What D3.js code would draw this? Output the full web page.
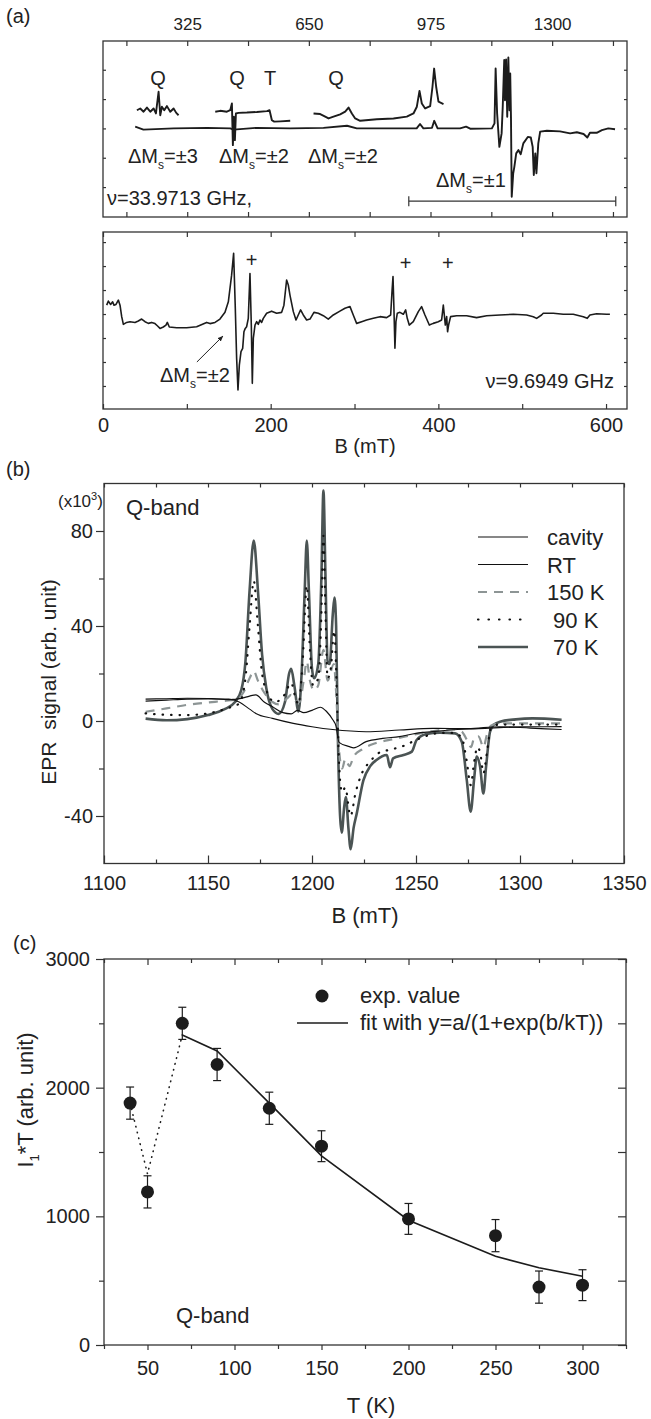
<!DOCTYPE html>
<html>
<head>
<meta charset="utf-8">
<script src="https://cdn.jsdelivr.net/npm/d3@7"></script>
<style>
  body { margin: 0; background: #fff; }
  svg { font-family: "Liberation Sans", Arial, sans-serif; }
</style>
</head>
<body>
<div id="chart-area"></div>
<script>
// ---------- panel (a), top: Q-band spectrum (field in mT, signal arb.) ----------
const qTicks = [162.5, 325, 487.5, 650, 812.5, 975, 1137.5, 1300, 1462.5];
const qLabels = [325, 650, 975, 1300];
const qBase = [[186,0.06],[208,-0.04],[289,0],[378,0.02],[440,0],[449,-0.04],[511,0.02],[600,0],[689,0.02],[752,0.09],[778,0],[876,0],[938,0],[947,0.15],[956,0],[979,0.02],[985,0.26],[994,0],[1054,0],[1070,0.06],[1081,-0.01],[1139,0],[1146,0.17],[1149,2.04],[1153,0.51],[1159,-0.63],[1165,-0.17],[1168,0.74],[1172,2.33],[1174,0.96],[1177,2.35],[1180,0.40],[1183,2.42],[1186,0.62],[1188,1.87],[1190,0.40],[1192,-2.33],[1196,-1.53],[1199,-1.31],[1204,-0.85],[1210,-0.74],[1216,-0.88],[1223,-0.51],[1235,-0.29],[1243,-0.31],[1248,-0.63],[1251,-1.59],[1255,-0.85],[1258,-1.53],[1263,-0.51],[1268,-0.11],[1286,-0.08],[1321,-0.10],[1348,-0.17],[1366,-0.13],[1384,-0.19],[1394,-0.31],[1401,-0.15],[1419,-0.15],[1433,-0.06],[1450,0],[1468,-0.03]];
const qSeg1 = [[190.6,0.62],[199.5,0.68],[208.4,0.57],[217.4,0.71],[226.3,0.57],[235.2,0.68],[241.4,0.51],[248.5,1.25],[253,0.45],[257.4,0.74],[263.6,0.62],[270.8,0.76],[279.7,0.57],[288.6,0.68],[295.7,0.53],[301.9,0.45]];
const qSeg2 = [[399.9,0.57],[413.2,0.60],[431,0.57],[439.9,0.62],[444.4,0.85],[447,-0.57],[449.7,0.40],[452.4,-0.40],[455.1,0.51],[462.2,0.53],[484.4,0.54],[511.2,0.56],[537.9,0.59],[545,0.62],[551.2,0.28],[557.5,0.23],[573.5,0.24],[600.2,0.26]];
const qSeg3 = [[662.5,0.51],[680.3,0.49],[693.7,0.40],[702.6,0.34],[715.9,0.40],[733.7,0.48],[747.1,0.57],[756,0.71],[764.9,0.51],[773.8,0.34],[787.1,0.26],[831.6,0.31],[876.1,0.34],[911.7,0.40],[929.5,0.51],[938.5,0.74],[945.6,1.28],[951.8,0.85],[960.7,0.68],[974.1,0.76],[980.3,1.42],[984.7,2.04],[990.1,1.42],[996.3,0.91],[1009.7,0.83]];

// ---------- panel (a), bottom: X-band spectrum ----------
const xTicks = [0, 100, 200, 300, 400, 500, 600];
const xLabels = [0, 200, 400, 600];
const xBand = [[4.4,0.37],[6.4,0.54],[9.1,0.40],[11.5,0.51],[13.1,0.37],[15.5,0.40],[18.3,0.58],[20.3,0.37],[22.3,-0.11],[24.3,-0.43],[28.2,-0.35],[32.2,-0.32],[38.2,-0.35],[42.1,-0.29],[46.1,-0.21],[50.1,-0.32],[54.1,-0.39],[58.0,-0.35],[62.0,-0.40],[64.8,-0.49],[68.0,-0.60],[71.9,-0.54],[75.1,-0.46],[76.7,-0.35],[79.1,-0.54],[87.9,-0.57],[99.8,-0.57],[111.7,-0.53],[123.6,-0.35],[127.6,-0.40],[133.6,-0.35],[139.5,-0.21],[145.5,0.07],[149.5,0.51],[153.4,1.62],[155.8,2.53],[157.8,0.24],[159.4,-1.85],[161.0,-3.17],[162.6,-2.13],[164.6,-1.57],[166.6,-1.43],[168.1,-0.74],[169.7,-0.60],[171.3,-0.53],[173.3,-0.18],[175.3,1.69],[176.9,-0.46],[178.1,-2.89],[179.3,-1.01],[181.3,-0.46],[183.3,-0.32],[185.2,-0.43],[187.2,-0.25],[189.2,-0.35],[191.2,-0.18],[195.2,0.03],[201.1,0.12],[207.1,0.03],[213.1,0.07],[215.8,0.37],[219.0,1.42],[221.0,1.21],[223.0,0.79],[227.0,0.10],[230.2,-0.25],[232.9,-0.04],[235.7,0.17],[238.9,-0.04],[242.9,-0.25],[246.9,-0.21],[251.6,0.07],[256.8,0.03],[262.8,-0.07],[268.7,-0.21],[274.7,-0.04],[282.6,0.12],[288.6,0.24],[294.6,0.31],[298.5,-0.04],[302.5,-0.39],[308.5,-0.32],[314.4,-0.25],[322.4,-0.18],[330.4,-0.11],[338.3,-0.15],[343.1,-0.04],[344.7,0.93],[345.9,1.56],[347.0,0.24],[348.2,-1.43],[349.4,-0.32],[351.0,0.03],[354.2,0.07],[358.2,-0.01],[361.0,0.17],[362.9,-0.18],[365.3,-0.46],[370.1,-0.32],[376.1,0.10],[380.0,0.31],[384.0,-0.04],[389.2,-0.46],[393.9,-0.39],[399.9,-0.32],[403.9,-0.25],[405.9,0.37],[407.1,-0.04],[408.3,-0.46],[409.9,-0.11],[411.0,-0.74],[412.2,-0.46],[414.6,-0.11],[421.8,-0.07],[433.7,-0.07],[445.6,-0.15],[457.6,-0.07],[473.5,-0.04],[489.4,-0.01],[505.3,-0.04],[513.2,-0.11],[517.2,-0.18],[523.1,-0.04],[525.1,0.03],[537.1,0.03],[549.0,-0.01],[560.9,-0.01],[572.8,-0.11],[577.6,-0.18],[580.8,-0.04],[588.7,0.01],[600.7,-0.01],[604.6,-0.01]];

// ---------- panel (b): Q-band spectra vs temperature (x10^3) ----------
const bTicksX = [1100, 1150, 1200, 1250, 1300, 1350];
const bMinorX = [1125, 1175, 1225, 1275, 1325];
const bTicksY = [-40, 0, 40, 80];
const bMinorY = [-20, 20, 60];
const cavity = [[1120,9.2],[1130,9.4],[1140,9.6],[1150,9.5],[1160,9.2],[1165,8],[1170,5],[1173,3.2],[1181,1.1],[1191,-1.0],[1200,-2.4],[1210,-3.6],[1226,-4.5],[1242,-3.8],[1258,-3.1],[1275,-3.2],[1290,-2.4],[1305,-3],[1320,-3.6]];
const rt = [[1120,8.4],[1130,8.8],[1140,9.2],[1150,9.3],[1160,9.0],[1166,9.5],[1170,10.5],[1173,11],[1177,8],[1181,6],[1186,3.5],[1190,3],[1193,4.5],[1196,3.5],[1200,4.5],[1204,5.8],[1207,4],[1210,0.5],[1211.5,-2],[1213,-9],[1218,-10.8],[1220,-11.3],[1226,-8.7],[1234,-7.3],[1242,-6.6],[1250,-5.2],[1258,-4.5],[1266,-3.8],[1280,-3.2],[1290,-2.8],[1300,-2.5],[1320,-2.4]];
const k150 = [[1120,3.9],[1130,5.3],[1140,6.8],[1150,7.8],[1158,8.5],[1164,9.2],[1167,12],[1170,18],[1172,21],[1174,17],[1177,12],[1181,8],[1184,7],[1188,9.5],[1190,11],[1192,8.5],[1194,8],[1196,17],[1197.5,25],[1199,17],[1201,13],[1203,15],[1205.5,30],[1207.5,17],[1210.5,24],[1211.6,12],[1212.3,0],[1213,-12],[1214.5,-20],[1216,-16],[1218,-19],[1220,-15],[1224,-12],[1230,-9.5],[1240,-7.5],[1250,-5.5],[1260,-4],[1268,-3.5],[1272,-4.5],[1274.5,-8],[1276.5,-11],[1278,-7],[1280,-6.5],[1282.5,-11],[1284,-6],[1286,-2],[1290,-1],[1300,-1],[1320,-1]];
const k90 = [[1120,3.2],[1130,2.6],[1140,2.5],[1150,3.2],[1159,5.3],[1165,7.4],[1168,18],[1170,40],[1172,59],[1174,40],[1176,20],[1179,11],[1182,8],[1186,10],[1189,15],[1190,16],[1192,10],[1193.5,7],[1195.5,25],[1197.5,57],[1199,30],[1200.5,15],[1203,18],[1204.5,45],[1205.5,78],[1206.5,45],[1207.5,18],[1209,22],[1210.7,38],[1211.6,22],[1212.3,0],[1213.5,-25],[1214.5,-30],[1216,-28],[1218.5,-40],[1221,-30],[1224,-22],[1228,-17],[1232,-13.5],[1238,-12],[1244,-10.5],[1250,-8],[1256,-6],[1262,-5],[1268,-5],[1272,-7],[1274.4,-17],[1276.3,-27],[1278,-17],[1279.5,-11],[1281,-14],[1282.4,-22],[1284,-14],[1286,-3],[1290,-1.5],[1300,-1.5],[1320,-1.5]];
const k70 = [[1120,1.0],[1130,0.3],[1140,0.8],[1150,2.5],[1158,5],[1163,8],[1166,13],[1168,25],[1170,55],[1172,76],[1174,55],[1176,28],[1178,14],[1181,5],[1184,3],[1187,8],[1189,20],[1190,22],[1191.5,15],[1193.5,4],[1195,20],[1196.5,55],[1197.5,76],[1198.5,55],[1200,22],[1201,18],[1203,24],[1204.5,60],[1205.5,97],[1206.5,60],[1207.5,25],[1208.5,24],[1210,45],[1210.8,52],[1211.6,40],[1212.3,0],[1213.5,-40],[1214.3,-47],[1215.5,-36],[1216.3,-32],[1217.5,-45],[1218.6,-54],[1220,-45],[1221.5,-39],[1224.7,-25],[1228,-19],[1231,-16.4],[1236,-14.3],[1237.5,-19.5],[1239,-15.7],[1244,-14.3],[1248,-12.9],[1250.3,-8],[1255,-5.5],[1261.5,-4.9],[1268.8,-5.2],[1272,-8.7],[1274.4,-24.8],[1276.3,-38.2],[1277.9,-24.8],[1279.2,-15],[1280.8,-19.2],[1282.4,-30.5],[1283.7,-19.2],[1285.6,-4.5],[1287.2,-1.7],[1290.4,-0.3],[1298,0.7],[1306,1.1],[1320,0.5]];
const bSeriesNames = ['cavity', 'RT', '150 K', ' 90 K', ' 70 K'];

// ---------- panel (c): I1*T vs T ----------
const cTicksX = [50, 100, 150, 200, 250, 300];
const cMinorX = [25, 75, 125, 175, 225, 275, 325];
const cTicksY = [0, 1000, 2000, 3000];
const cMinorY = [500, 1500, 2500];
const temps = [40, 50, 70, 90, 120, 150, 200, 250, 275, 300];
const i1t = [1880, 1190, 2500, 2180, 1840, 1545, 980, 850, 450, 465];
const i1tErr = [125, 125, 125, 125, 125, 120, 120, 125, 125, 120];
const fitT = [70, 90, 120, 150, 200, 250, 275, 300];
const fitY = [2410, 2285, 1880, 1470, 970, 690, 600, 535];
const guideT = [40, 50, 70];
const guideY = [1880, 1330, 2410];

const ink = '#1c1c1c';
const svg = d3.select('#chart-area')
    .append('svg')
        .attr('width', 651)
        .attr('height', 1419);

function frame(x0, y0, x1, y1) {
    svg.append('rect')
        .attr('x', x0).attr('y', y0)
        .attr('width', x1 - x0).attr('height', y1 - y0)
        .attr('fill', 'none')
        .attr('stroke', '#333')
        .attr('stroke-width', 1.3);
}

// one axis, domain line removed (the frame draws it)
function axis(gen, scale, values, size, pad, labels, tx, ty, fs) {
    const a = gen(scale)
        .tickValues(values)
        .tickSize(size)
        .tickPadding(pad)
        .tickFormat(d => (labels && labels.includes(d)) ? d : '');
    const g = svg.append('g')
        .attr('transform', `translate(${tx}, ${ty})`)
        .call(a);
    g.attr('font-family', '"Liberation Sans", Arial, sans-serif')
        .attr('font-size', fs || 20);
    g.select('.domain').remove();
    g.selectAll('line').attr('stroke', '#333').attr('stroke-width', 1.2);
    g.selectAll('text').attr('fill', '#222');
    return g;
}

function label(x, y, txt, fs, anchor) {
    return svg.append('text')
        .attr('x', x).attr('y', y)
        .attr('font-size', fs || 20)
        .attr('fill', '#222')
        .attr('text-anchor', anchor || 'start')
        .text(txt);
}

function deltaMs(x, y, val) {
    const t = svg.append('text')
        .attr('x', x).attr('y', y)
        .attr('font-size', 20)
        .attr('fill', '#222');
    t.append('tspan').text('\u0394M');
    t.append('tspan').attr('dy', 6).attr('font-size', 12).text('s');
    t.append('tspan').attr('dy', -6).text('=\u00b1' + val);
}

// ================= panel (a) top =================
const xQ = d3.scaleLinear().domain([100, 1500]).range([103, 627]);
const yQ = d3.scaleLinear().domain([-3.02, 2.98]).range([217, 41]);
frame(103, 41, 627, 217);
axis(d3.axisTop, xQ, qTicks, -5, 11, qLabels, 0, 41, 17);
axis(d3.axisBottom, xQ, qTicks, -5, 5, null, 0, 217);
axis(d3.axisLeft, yQ, [-2, -1, 0, 1, 2], -3, 3, null, 103, 0);
axis(d3.axisRight, yQ, [-2, -1, 0, 1, 2], -3, 3, null, 627, 0);

const lineQ = d3.line().x(d => xQ(d[0])).y(d => yQ(d[1]));
[qBase, qSeg1, qSeg2, qSeg3].forEach(s => {
    svg.append('path')
        .attr('d', lineQ(s))
        .attr('fill', 'none')
        .attr('stroke', ink)
        .attr('stroke-width', 1.9)
        .attr('stroke-linejoin', 'round');
});

label(158, 85, 'Q', 20, 'middle');
label(237, 85, 'Q', 20, 'middle');
label(270, 85, 'T', 20, 'middle');
label(336, 85, 'Q', 20, 'middle');
deltaMs(128, 163, '3');
deltaMs(219, 163, '2');
deltaMs(308, 163, '2');
deltaMs(436, 187, '1');
label(107, 205, '\u03bd=33.9713 GHz,', 20);

// ΔMs=±1 range bracket
const bracket = [xQ(917), xQ(1470)];
svg.append('line')
    .attr('x1', bracket[0]).attr('x2', bracket[1])
    .attr('y1', yQ(-2.48)).attr('y2', yQ(-2.48))
    .attr('stroke', '#333').attr('stroke-width', 1.2);
bracket.forEach(bx => {
    svg.append('line')
        .attr('x1', bx).attr('x2', bx)
        .attr('y1', yQ(-2.48) - 5).attr('y2', yQ(-2.48) + 5)
        .attr('stroke', '#333').attr('stroke-width', 1.2);
});

// ================= panel (a) bottom =================
const xX = d3.scaleLinear().domain([0, 625]).range([103, 627]);
const yX = d3.scaleLinear().domain([-3.96, 3.42]).range([409, 232]);
frame(103, 232, 627, 409);
axis(d3.axisBottom, xX, xTicks, -5, 9, xLabels, 0, 409);
axis(d3.axisTop, xX, xTicks, -5, 5, null, 0, 232);
axis(d3.axisLeft, yX, [-3, -2, -1, 0, 1, 2, 3], -3, 3, null, 103, 0);
axis(d3.axisRight, yX, [-3, -2, -1, 0, 1, 2, 3], -3, 3, null, 627, 0);

const lineX = d3.line().x(d => xX(d[0])).y(d => yX(d[1]));
svg.append('path')
    .attr('d', lineX(xBand))
    .attr('fill', 'none')
    .attr('stroke', ink)
    .attr('stroke-width', 1.6)
    .attr('stroke-linejoin', 'round');

label(xX(177.3), 267, '+', 20, 'middle');
label(xX(360.9), 270, '+', 20, 'middle');
label(xX(411.3), 270, '+', 20, 'middle');
deltaMs(160, 382, '2');
label(614, 388, '\u03bd=9.6949 GHz', 20, 'end');
label(365, 453, 'B (mT)', 20, 'middle');

svg.append('defs').append('marker')
    .attr('id', 'arrow')
    .attr('viewBox', '0 0 10 10')
    .attr('refX', 9).attr('refY', 5)
    .attr('markerWidth', 6).attr('markerHeight', 6)
    .attr('orient', 'auto')
    .append('path')
        .attr('d', 'M0,1 L10,5 L0,9 Z')
        .attr('fill', '#222');
svg.append('line')
    .attr('x1', xX(112)).attr('y1', yX(-2.0))
    .attr('x2', xX(143)).attr('y2', yX(-0.92))
    .attr('stroke', '#222').attr('stroke-width', 1)
    .attr('marker-end', 'url(#arrow)');

label(6, 23, '(a)', 20);

// ================= panel (b) =================
const xB = d3.scaleLinear().domain([1100, 1350]).range([104, 624]);
const yB = d3.scaleLinear().domain([-60, 100]).range([863.5, 483.5]);
frame(104, 483.5, 624, 863.5);
axis(d3.axisBottom, xB, bTicksX, -8, 12, bTicksX, 0, 863.5);
axis(d3.axisBottom, xB, bMinorX, -4, 5, null, 0, 863.5);
axis(d3.axisTop, xB, bTicksX.concat(bMinorX), -4, 5, null, 0, 483.5);
axis(d3.axisLeft, yB, bTicksY, 8, 3, bTicksY, 104, 0);
axis(d3.axisLeft, yB, bMinorY, 5, 3, null, 104, 0);

const lineB = d3.line().x(d => xB(d[0])).y(d => yB(d[1])).curve(d3.curveMonotoneX);
const bStyles = [
    { data: k70, stroke: '#4b5454', width: 2.6, dash: null },
    { data: k150, stroke: '#8d9595', width: 2.2, dash: '9,7' },
    { data: k90, stroke: '#111', width: 2.2, dash: '0.5,8' },
    { data: rt, stroke: '#111', width: 1.2, dash: null },
    { data: cavity, stroke: '#111', width: 1.1, dash: null }
];
bStyles.forEach(s => {
    svg.append('path')
        .attr('d', lineB(s.data))
        .attr('fill', 'none')
        .attr('stroke', s.stroke)
        .attr('stroke-width', s.width)
        .attr('stroke-dasharray', s.dash)
        .attr('stroke-linecap', s.dash === '0.5,8' ? 'round' : 'butt')
        .attr('stroke-linejoin', 'round');
});

// legend: same order as the reference (cavity, RT, 150 K, 90 K, 70 K)
const legendOrder = [4, 3, 1, 2, 0];
bSeriesNames.forEach((name, i) => {
    const s = bStyles[legendOrder[i]];
    const ly = 537 + i * 27.5;
    svg.append('line')
        .attr('x1', 478).attr('x2', 528)
        .attr('y1', ly).attr('y2', ly)
        .attr('stroke', s.stroke)
        .attr('stroke-width', s.width)
        .attr('stroke-dasharray', s.dash === '0.5,8' ? '0.5,10' : s.dash)
        .attr('stroke-linecap', s.dash === '0.5,8' ? 'round' : 'butt');
    label(547, ly + 8, name, 22).attr('xml:space', 'preserve');
});

const sci = svg.append('text').attr('x', 58).attr('y', 507).attr('font-size', 17).attr('fill', '#222');
sci.append('tspan').text('(x10');
sci.append('tspan').attr('dy', -7).attr('font-size', 11).text('3');
sci.append('tspan').attr('dy', 7).text(')');
label(126, 515, 'Q-band', 22);
label(365, 923, 'B (mT)', 22, 'middle');
svg.append('text')
    .attr('transform', 'translate(56, 682) rotate(-90)')
    .attr('text-anchor', 'middle')
    .attr('font-size', 21)
    .attr('fill', '#222')
    .text('EPR\u00a0 signal (arb. unit)');
label(6, 476, '(b)', 20);

// ================= panel (c) =================
const xC = d3.scaleLinear().domain([25, 325]).range([104, 626]);
const yC = d3.scaleLinear().domain([0, 3000]).range([1345, 959]);
frame(104, 959, 626, 1345);
axis(d3.axisBottom, xC, cTicksX, 5, 11, cTicksX, 0, 1345);
axis(d3.axisBottom, xC, cMinorX, 4, 5, null, 0, 1345);
axis(d3.axisTop, xC, cTicksX, -6, 5, null, 0, 959);
axis(d3.axisTop, xC, cMinorX, -4, 5, null, 0, 959);
axis(d3.axisLeft, yC, cTicksY, 8, 6, cTicksY, 104, 0);
axis(d3.axisLeft, yC, cMinorY, 5, 6, null, 104, 0);
axis(d3.axisRight, yC, cTicksY.concat(cMinorY), -8, 5, null, 626, 0);

const guide = guideT.map((t, i) => [t, guideY[i]]);
svg.append('path')
    .attr('d', d3.line().x(d => xC(d[0])).y(d => yC(d[1]))(guide))
    .attr('fill', 'none')
    .attr('stroke', ink)
    .attr('stroke-width', 1.6)
    .attr('stroke-dasharray', '0.5,5.5')
    .attr('stroke-linecap', 'round');

const fit = fitT.map((t, i) => [t, fitY[i]]);
svg.append('path')
    .attr('d', d3.line().x(d => xC(d[0])).y(d => yC(d[1]))(fit))
    .attr('fill', 'none')
    .attr('stroke', ink)
    .attr('stroke-width', 1.6);

const pts = temps.map((t, i) => ({ t: t, v: i1t[i], e: i1tErr[i] }));
const eb = svg.append('g').attr('stroke', ink).attr('stroke-width', 1.2);
pts.forEach(p => {
    const x = xC(p.t);
    eb.append('line').attr('x1', x).attr('x2', x).attr('y1', yC(p.v - p.e)).attr('y2', yC(p.v + p.e));
    eb.append('line').attr('x1', x - 4).attr('x2', x + 4).attr('y1', yC(p.v - p.e)).attr('y2', yC(p.v - p.e));
    eb.append('line').attr('x1', x - 4).attr('x2', x + 4).attr('y1', yC(p.v + p.e)).attr('y2', yC(p.v + p.e));
});
svg.selectAll('circle.pt')
    .data(pts)
    .enter()
        .append('circle')
            .attr('class', 'pt')
            .attr('cx', d => xC(d.t))
            .attr('cy', d => yC(d.v))
            .attr('r', 6.5)
            .attr('fill', ink);

// legend
svg.append('circle').attr('cx', 322).attr('cy', 996).attr('r', 6.5).attr('fill', ink);
label(360, 1003, 'exp. value', 22);
svg.append('line').attr('x1', 297).attr('x2', 348).attr('y1', 1023).attr('y2', 1023)
    .attr('stroke', ink).attr('stroke-width', 1.6);
label(360, 1030, 'fit with y=a/(1+exp(b/kT))', 22);

label(176, 1323, 'Q-band', 22);
label(371, 1413, 'T (K)', 22, 'middle');
const yl = svg.append('text')
    .attr('transform', 'translate(33, 1100) rotate(-90)')
    .attr('text-anchor', 'middle')
    .attr('font-size', 22)
    .attr('fill', '#222');
yl.append('tspan').text('I');
yl.append('tspan').attr('dy', 6).attr('font-size', 13).text('1');
yl.append('tspan').attr('dy', -6).text('*T (arb. unit)');
label(13, 950, '(c)', 20);
</script>
</body>
</html>
